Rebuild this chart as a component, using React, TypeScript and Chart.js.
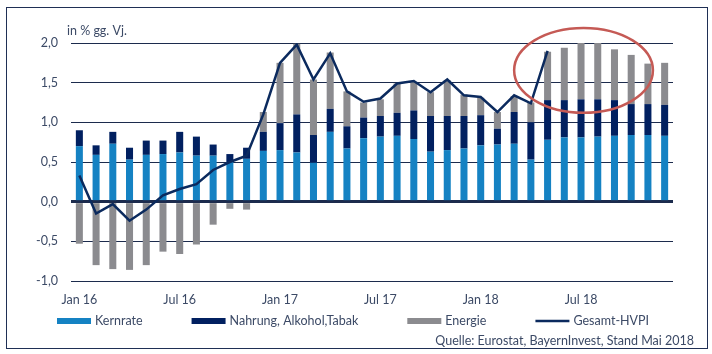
import React, { useEffect, useRef } from "react";
import { Chart, registerables } from "chart.js";

Chart.register(...registerables);

const categories = [
  "Jan 16", "Feb 16", "Mär 16", "Apr 16", "Mai 16", "Jun 16", "Jul 16", "Aug 16", "Sep 16", "Okt 16", "Nov 16", "Dez 16",
  "Jan 17", "Feb 17", "Mär 17", "Apr 17", "Mai 17", "Jun 17", "Jul 17", "Aug 17", "Sep 17", "Okt 17", "Nov 17", "Dez 17",
  "Jan 18", "Feb 18", "Mär 18", "Apr 18", "Mai 18", "Jun 18", "Jul 18", "Aug 18", "Sep 18", "Okt 18", "Nov 18", "Dez 18",
];
const shownTickLabels = ["Jan 16", "Jul 16", "Jan 17", "Jul 17", "Jan 18", "Jul 18"];

const kernrate = [
  0.70, 0.59, 0.73, 0.53, 0.59, 0.60, 0.62, 0.58, 0.58, 0.50, 0.54, 0.64,
  0.65, 0.62, 0.49, 0.88, 0.67, 0.80, 0.82, 0.83, 0.79, 0.63, 0.65, 0.67,
  0.71, 0.72, 0.73, 0.53, 0.78, 0.81, 0.81, 0.82, 0.83, 0.84, 0.84, 0.83,
];
const nahrung = [
  0.20, 0.12, 0.15, 0.15, 0.18, 0.17, 0.26, 0.24, 0.14, 0.10, 0.14, 0.24,
  0.34, 0.48, 0.35, 0.29, 0.28, 0.26, 0.26, 0.29, 0.36, 0.45, 0.43, 0.41,
  0.38, 0.20, 0.40, 0.47, 0.50, 0.47, 0.48, 0.47, 0.45, 0.39, 0.39, 0.39,
];
const energie = [
  -0.53, -0.80, -0.85, -0.86, -0.80, -0.63, -0.66, -0.54, -0.29, -0.09, -0.10, 0.25,
  0.76, 0.89, 0.70, 0.71, 0.44, 0.19, 0.21, 0.37, 0.36, 0.30, 0.45, 0.27,
  0.22, 0.21, 0.20, 0.25, 0.61, 0.66, 0.71, 0.71, 0.64, 0.62, 0.51, 0.53,
];
const gesamtHVPI = [
  0.33, -0.15, -0.03, -0.24, -0.10, 0.08, 0.16, 0.22, 0.40, 0.50, 0.58, 1.10,
  1.75, 1.98, 1.54, 1.87, 1.39, 1.26, 1.30, 1.49, 1.52, 1.38, 1.54, 1.34,
  1.32, 1.13, 1.34, 1.24, 1.90, null, null, null, null, null, null, null,
];

// highlight ellipse (in data units: category index range, value range)
const ellipseIndexRange = [26.0, 34.3];
const ellipseValueRange = [1.12, 2.19];

const yAxisTitle = "in % gg. Vj.";
const sourceText = "Quelle: Eurostat, BayernInvest, Stand Mai 2018";

const COLORS = {
  kern: "#1582c3",
  nahrung: "#012060",
  energie: "#8b8b8f",
  line: "#0b2a5e",
  grid: "#1c2b4d",
  text: "#3c4a66",
  ellipse: "#c55a55",
};
const FONT = "Lato, 'Open Sans', sans-serif";

const decorPlugin = {
  id: "decor",
  afterDatasetsDraw(chart: any) {
    const { ctx, chartArea, scales } = chart;
    const x = scales.x;
    const y = scales.y;
    // red ellipse
    const x0 = x.getPixelForValue(ellipseIndexRange[0]);
    const x1 = x.getPixelForValue(ellipseIndexRange[1]);
    const y0 = y.getPixelForValue(ellipseValueRange[1]);
    const y1 = y.getPixelForValue(ellipseValueRange[0]);
    ctx.save();
    ctx.beginPath();
    ctx.ellipse((x0 + x1) / 2, (y0 + y1) / 2, (x1 - x0) / 2, (y1 - y0) / 2, 0, 0, Math.PI * 2);
    ctx.strokeStyle = COLORS.ellipse;
    ctx.lineWidth = 2.5;
    ctx.stroke();
    ctx.restore();
  },
  afterDraw(chart: any) {
    const { ctx, chartArea } = chart;
    ctx.save();
    ctx.fillStyle = COLORS.text;
    ctx.font = `12.5px ${FONT}`;
    ctx.textBaseline = "middle";
    ctx.textAlign = "left";
    // axis title
    ctx.fillText(yAxisTitle, chartArea.left - 4, chartArea.top - 12);

    // legend
    const legendY = 321;
    let lx = chartArea.left - 14;
    const items = chart.data.datasets.map((d: any) => ({
      text: d.label,
      color: d.type === "line" ? d.borderColor : d.backgroundColor,
      isLine: d.type === "line",
    }));
    for (const it of items) {
      if (it.isLine) {
        ctx.strokeStyle = it.color;
        ctx.lineWidth = 2.5;
        ctx.beginPath();
        ctx.moveTo(lx, legendY);
        ctx.lineTo(lx + 34, legendY);
        ctx.stroke();
      } else {
        ctx.fillStyle = it.color;
        ctx.fillRect(lx, legendY - 3, 34, 6);
      }
      ctx.fillStyle = COLORS.text;
      ctx.fillText(it.text, lx + 38, legendY);
      lx += 38 + ctx.measureText(it.text).width + 49;
    }

    // source
    ctx.textAlign = "right";
    ctx.fillText(sourceText, chartArea.right + 21, 341);
    ctx.restore();
  },
};

export default function App() {
  const canvasRef = useRef<HTMLCanvasElement | null>(null);

  useEffect(() => {
    const canvas = canvasRef.current;
    if (!canvas) return;
    const chart = new Chart(canvas, {
      type: "bar",
      data: {
        labels: categories,
        datasets: [
          {
            type: "bar",
            label: "Kernrate",
            data: kernrate,
            backgroundColor: COLORS.kern,
            stack: "bars",
            order: 1,
            barPercentage: 0.42,
            categoryPercentage: 1,
          },
          {
            type: "bar",
            label: "Nahrung, Alkohol,Tabak",
            data: nahrung,
            backgroundColor: COLORS.nahrung,
            stack: "bars",
            order: 1,
            barPercentage: 0.42,
            categoryPercentage: 1,
          },
          {
            type: "bar",
            label: "Energie",
            data: energie,
            backgroundColor: COLORS.energie,
            stack: "bars",
            order: 1,
            barPercentage: 0.42,
            categoryPercentage: 1,
          },
          {
            type: "line",
            label: "Gesamt-HVPI",
            data: gesamtHVPI as any,
            borderColor: COLORS.line,
            backgroundColor: COLORS.line,
            borderWidth: 2.5,
            pointRadius: 0,
            tension: 0,
            spanGaps: false,
            stack: "line",
            order: 0,
          } as any,
        ],
      },
      options: {
        responsive: false,
        animation: false,
        devicePixelRatio: 1,
        layout: { padding: { left: 0, right: 39, top: 43, bottom: 0 } },
        plugins: {
          legend: { display: false },
          tooltip: { enabled: false },
          title: { display: false },
        },
        scales: {
          x: {
            stacked: true,
            grid: { display: false, drawTicks: false },
            border: { display: false },
            ticks: {
              autoSkip: false,
              maxRotation: 0,
              minRotation: 0,
              padding: 11,
              color: COLORS.text,
              font: { family: FONT, size: 12.5 },
              callback: (_v: any, i: number) =>
                shownTickLabels.includes(categories[i]) ? categories[i] : "",
            },
            afterFit: (s: any) => {
              s.height = 73;
            },
          },
          y: {
            stacked: true,
            min: -1,
            max: 2,
            grid: {
              color: COLORS.grid,
              lineWidth: (c: any) => (c.tick && c.tick.value === 0 ? 3 : 1),
              drawTicks: false,
            },
            border: { display: false },
            ticks: {
              stepSize: 0.5,
              padding: 13,
              color: COLORS.text,
              font: { family: FONT, size: 12.5 },
              callback: (v: any) => Number(v).toFixed(1).replace(".", ","),
            },
            afterFit: (s: any) => {
              s.width = 71;
            },
          },
        },
      },
      plugins: [decorPlugin],
    });
    return () => chart.destroy();
  }, []);

  return (
    <div style={{ position: "fixed", left: 0, top: 0, width: 712, height: 354, background: "#fff" }}>
      <div
        style={{
          position: "absolute",
          left: 6,
          top: 7,
          width: 700,
          height: 340,
          border: "1px solid #1f2f55",
        }}
      />
      <canvas
        ref={canvasRef}
        width={712}
        height={354}
        style={{ position: "absolute", left: 0, top: 0, width: 712, height: 354 }}
      />
    </div>
  );
}
